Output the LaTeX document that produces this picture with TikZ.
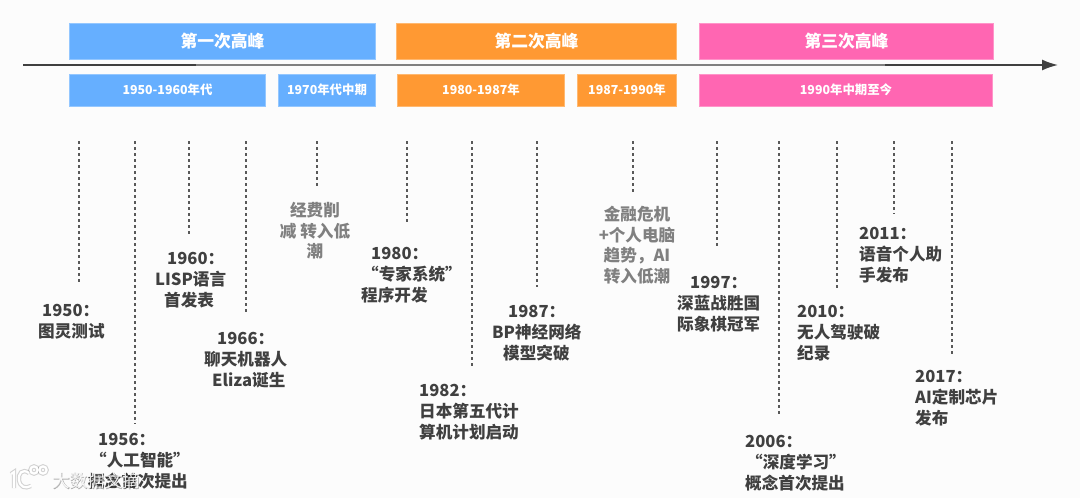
\documentclass[tikz,border=0pt]{standalone}
\usepackage{fontspec}
\usetikzlibrary{arrows.meta}
\setmainfont{Noto Sans CJK SC}
\newfontfamily\markglowfont[FakeBold=3]{Noto Sans CJK SC}
\begin{document}
\begin{tikzpicture}[x=1pt,y=-1pt,
  bar/.style={rectangle,minimum height=36pt,inner sep=0pt,font=\bfseries\fontsize{16.8}{18}\selectfont,text=white},
  band/.style={rectangle,minimum height=32pt,inner sep=0pt,font=\bfseries\fontsize{12.4}{14}\selectfont,text=white},
  bluebox/.style={fill=boxblue,draw=boxblue!70!white,line width=.6pt},
  orangebox/.style={fill=boxorange,draw=boxorange!70!white,line width=.6pt},
  pinkbox/.style={fill=boxpink,draw=boxpink!70!white,line width=.6pt},
  event/.style={anchor=west,inner sep=0pt,align=left,text=evtext,font=\bfseries\fontsize{16.6}{20.9}\selectfont},
  lowtext/.style={anchor=center,inner sep=0pt,align=center,text=lowgray,font=\bfseries\fontsize{16.6}{20.5}\selectfont},
  stem/.style={draw=stemcol,line width=1.1pt,dash pattern=on 3pt off 3pt},
  axisline/.style={line width=1.6pt},
  markglow/.style={draw=black,opacity=.16,line width=4.4pt},
  markstroke/.style={draw=white,line width=2.2pt},
  marktext/.style={inner sep=0pt,font=\fontsize{17.5}{18}\selectfont}
]
\definecolor{boxblue}{HTML}{66AFFF}
\definecolor{boxorange}{HTML}{FF9933}
\definecolor{boxpink}{HTML}{FF66B2}
\definecolor{evtext}{HTML}{404040}
\definecolor{lowgray}{HTML}{808080}
\definecolor{stemcol}{HTML}{595959}
\definecolor{axdark}{HTML}{404040}
\definecolor{axmid}{HTML}{808080}
\fill[white!99!black] (0,0) rectangle (1080,498);
\useasboundingbox (0,0) rectangle (1080,498);

% top bars
\node[bar,bluebox,minimum width=306.5pt] (p1) at (222.5,41) {\raisebox{-1.5pt}{第一次高峰}};
\node[bar,orangebox,minimum width=280.5pt] (p2) at (536.5,41) {\raisebox{-1.5pt}{第二次高峰}};
\node[bar,pinkbox,minimum width=294.5pt] (p3) at (846.5,41) {\raisebox{-1.5pt}{第三次高峰}};
% sub bands
\node[band,bluebox,minimum width=196.5pt] (b1) at (167.5,90) {1950-1960年代};
\node[band,bluebox,minimum width=97.5pt] (b2) at (327,90) {1970年代中期};
\node[band,orangebox,minimum width=167.5pt] (b3) at (481,90) {1980-1987年};
\node[band,orangebox,minimum width=99.5pt] (b4) at (627,90) {1987-1990年};
\node[band,pinkbox,minimum width=293.5pt] (b5) at (846,90) {1990年中期至今};

% axis
\coordinate (axL) at (23,65);
\coordinate (axR) at (1058,65);
\coordinate (axM1) at (196,65);
\coordinate (axM2) at (885,65);
\draw[axisline,draw=axdark,-{Latex[length=16pt,width=11pt]}] (axL) -- (axR);
\draw[axisline,draw=axmid] (axM1) -- (axM2);

% stems
\foreach \n/\xx/\yy in {a/79/282,b/135/424,c/189/236,d/246/312,e/317/188,f/407/222,g/472/366,h/537/287,i/633/193,j/717/248,k/779/416,l/837/288,m/894/214,n/952/356}{
  \coordinate (\n t) at (\xx,141);
  \coordinate (\n b) at (\xx,\yy);
  \draw[stem] (\n t) -- (\n b);
}

% events
\node[event] (e1950) at (38,322) {\hspace*{4pt}1950：\\图灵测试};
\node[event] (e1956) at (88,461) {\hspace*{10pt}1956：\\\hspace*{2pt}“人工智能”\\概念首次提出};
\node[event] (e1960) at (155,280.5) {\hspace*{12pt}1960：\\LISP语言\\\hspace*{9pt}首发表};
\node[event] (e1966) at (204,360) {\hspace*{13pt}1966：\\聊天机器人\\\hspace*{8pt}Eliza诞生};
\node[lowtext] (low1) at (315,231) {经费削\\减 转入低\\潮};
\node[event] (e1980) at (361,275.5) {\hspace*{10pt}1980：\\\hspace*{1pt}“专家系统”\\程序开发};
\node[event] (e1982) at (419,412.5) {1982：\\日本第五代计\\算机计划启动};
\node[event] (e1987) at (492,333.5) {\hspace*{16pt}1987：\\BP神经网络\\\hspace*{11pt}模型突破};
\node[lowtext] (low2) at (637,245) {金融危机\\+个人电脑\\趋势，AI\\转入低潮};
\node[event] (e1997) at (677,304) {\hspace*{13pt}1997：\\深蓝战胜国\\际象棋冠军};
\node[event] (e2006) at (745,463.5) {2006：\\\hspace*{1pt}“深度学习”\\概念首次提出};
\node[event] (e2010) at (797,333.5) {2010：\\无人驾驶破\\纪录};
\node[event] (e2011) at (859,255.5) {2011：\\语音个人助\\手发布};
\node[event] (e2017) at (915,398.5) {2017：\\AI定制芯片\\发布};

% watermark
\foreach \st in {markglow,markstroke}{
  \draw[\st] (11,474) -- (14,472) -- (14,488);
  \draw[\st] (29,473) .. controls (22,468) and (18,474) .. (19,480) .. controls (20,487) and (25,489) .. (31,486);
  \draw[\st] (34,470) circle[radius=3.6];
  \draw[\st] (43,470) circle[radius=3.6];
}
\node[marktext,text=black,opacity=.2] (markglow) at (96.5,481) {\markglowfont 大数据文摘};
\node[marktext,text=white,opacity=.9] (mark) at (96.5,481) {大数据文摘};
\end{tikzpicture}
\end{document}
